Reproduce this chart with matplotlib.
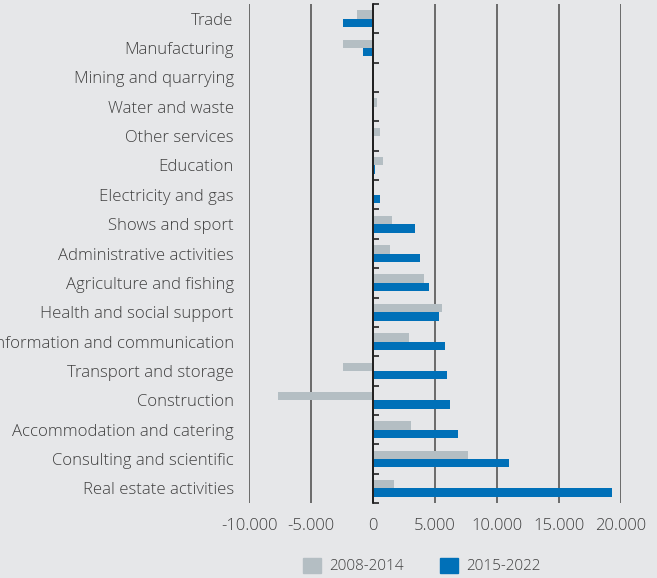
import matplotlib
matplotlib.use("Agg")
import matplotlib.pyplot as plt
from matplotlib.patches import Patch
from matplotlib.ticker import FuncFormatter
import numpy as np

categories = ["Trade", "Manufacturing", "Mining and quarrying", "Water and waste",
              "Other services", "Education", "Electricity and gas", "Shows and sport",
              "Administrative activities", "Agriculture and fishing",
              "Health and social support", "Information and communication",
              "Transport and storage", "Construction", "Accommodation and catering",
              "Consulting and scientific", "Real estate activities"]
series_2008_2014 = [-1300, -2400, 0, 300, 550, 800, 100, 1550, 1390, 4150, 5570,
                    2870, -2400, -7700, 3040, 7640, 1720]
series_2015_2022 = [-2400, -800, -100, -100, 0, 130, 540, 3350, 3780, 4530, 5300,
                    5810, 5950, 6180, 6890, 10980, 19290]
xticks = [-10000, -5000, 0, 5000, 10000, 15000, 20000]
legend_labels = ["2008-2014", "2015-2022"]

BG = "#e6e7e9"
GRAY = "#b4bec3"
BLUE = "#0070b8"
TXT = "#404040"

plt.rcParams['font.family'] = ['Open Sans', 'DejaVu Sans']
plt.rcParams['font.weight'] = 'light'

W, H = 657, 578
fig = plt.figure(figsize=(W/100, H/100), dpi=100, facecolor=BG)
ax = fig.add_axes([249/W, (H-503)/H, (621-249)/W, (503-4)/H], facecolor=BG)

y = np.arange(len(categories))
h = 0.285
ax.barh(y - h/2, series_2008_2014, height=h, color=GRAY, zorder=3)
ax.barh(y + h/2, series_2015_2022, height=h, color=BLUE, zorder=3)

ax.set_xlim(-10000, 20000)
ax.set_ylim(len(categories) - 0.5, -0.5)
ax.set_xticks(xticks)
ax.xaxis.set_major_formatter(FuncFormatter(lambda v, p: f"{int(v):,}".replace(",", ".")))
ax.grid(axis='x', color="#555555", lw=1.2, zorder=1)
ax.axvline(0, color="#222222", lw=1.3, zorder=4)

for s in ['top', 'bottom', 'left']:
    ax.spines[s].set_visible(False)
ax.spines['right'].set_position(('data', 0))
ax.spines['right'].set_color("#222222")
ax.spines['right'].set_linewidth(1.3)
ax.spines['right'].set_zorder(4)

ax.set_yticks(y)
ax.set_yticklabels(categories)
ax.set_yticks(np.arange(len(categories) + 1) - 0.5, minor=True)
ax.tick_params(axis='y', which='major', length=0, pad=11, labelsize=12.1,
               labelcolor=TXT, left=False, right=False)
ax.tick_params(axis='y', which='minor', length=4, width=1.2, color="#222222",
               direction='out', left=False, right=True)
ax.tick_params(axis='x', length=0, pad=10.5, labelsize=12, labelcolor=TXT)

handles = [Patch(color=GRAY), Patch(color=BLUE)]
fig.legend(handles, legend_labels, loc='center', bbox_to_anchor=(422/W, 12/H),
           ncol=2, frameon=False, fontsize=11, labelcolor=TXT,
           handlelength=1.15, handleheight=1.15, columnspacing=2.4, handletextpad=0.55)

fig.savefig("out.png", dpi=100, facecolor=BG)
